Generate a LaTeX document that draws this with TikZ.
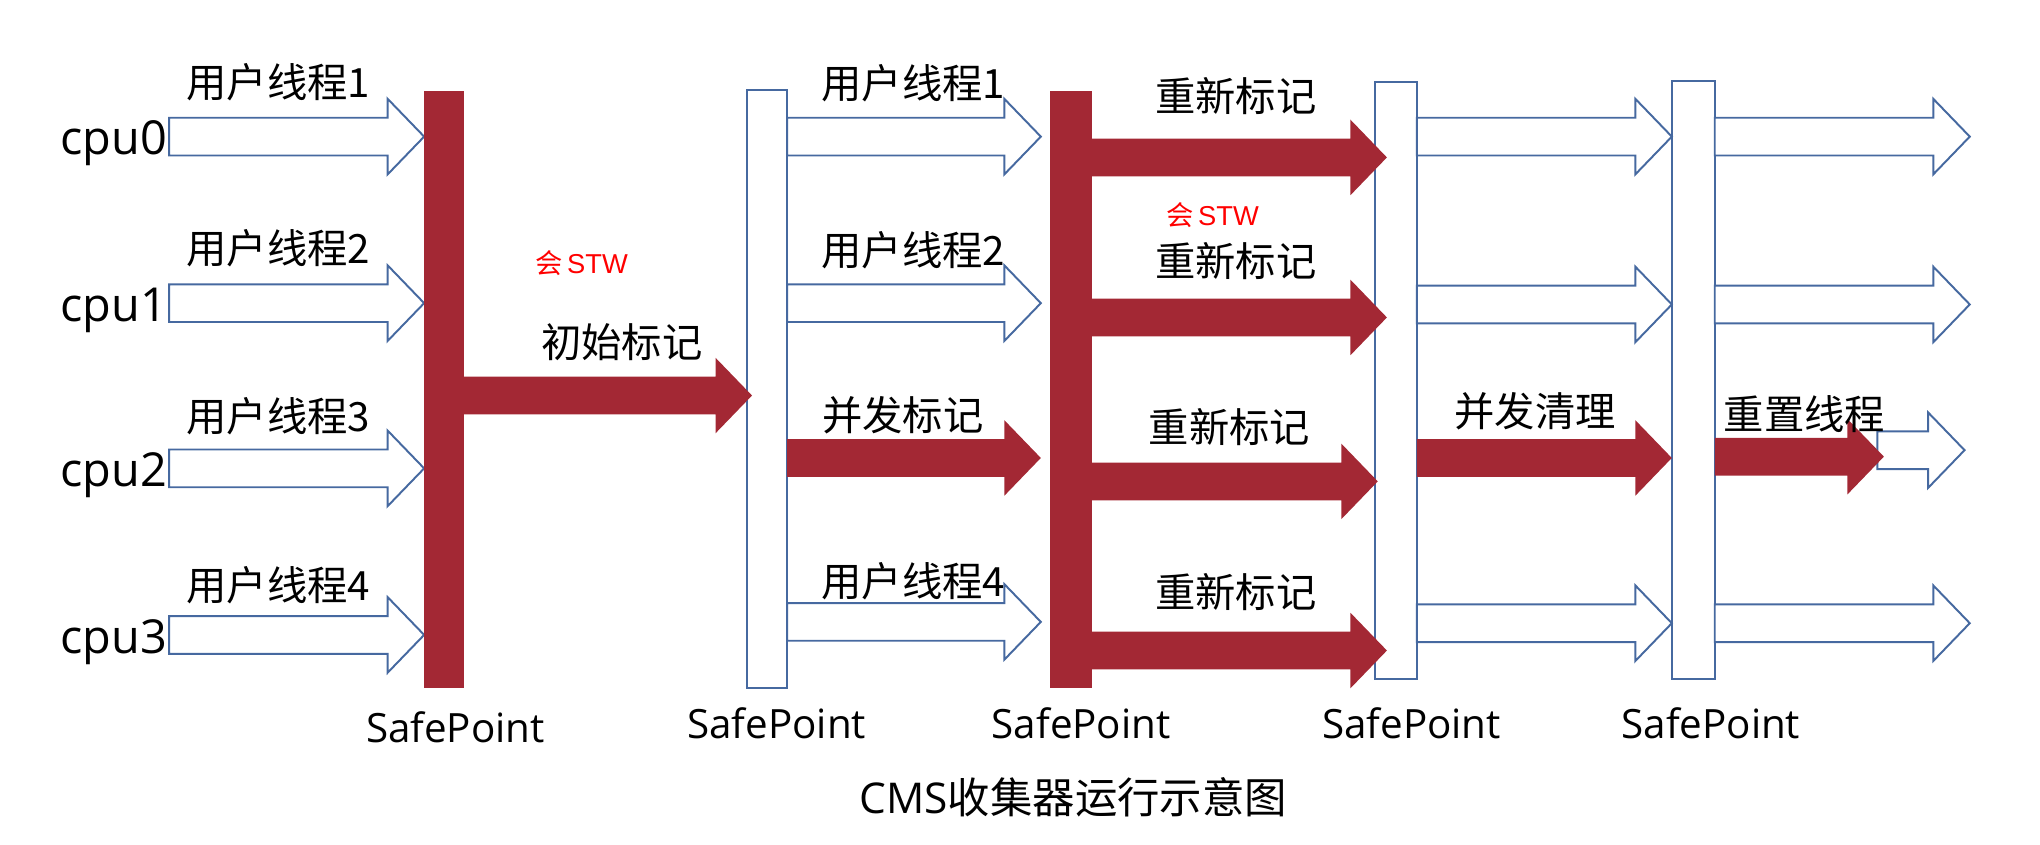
\documentclass[tikz,border=0pt]{standalone}
\usepackage{fontspec}
\setmainfont{Open Sans}
\newfontfamily\cjk{Noto Sans CJK SC}
\newfontfamily\arialf{Liberation Sans}
\definecolor{barred}{RGB}{163,40,52}
\definecolor{lineblue}{RGB}{70,105,160}
\definecolor{stwred}{RGB}{255,0,0}
% block arrow: style, x start, x tip, y centre (units: reference px)
\newcommand\harrow[4]{%
  \path[#1] (#2,#4-14.5) -- (#3-28,#4-14.5) -- (#3-28,#4-29) -- (#3,#4)
    -- (#3-28,#4+29) -- (#3-28,#4+14.5) -- (#2,#4+14.5) -- cycle;}
\begin{document}
\begin{tikzpicture}[x=0.5pt,y=-0.5pt,
  hollow/.style={draw=lineblue, fill=white, line width=0.75pt, line join=miter},
  solid/.style={fill=barred},
  redbar/.style={fill=barred, draw=none, inner sep=0pt, outer sep=0pt},
  holbar/.style={draw=lineblue, fill=white, line width=0.75pt, inner sep=0pt, outer sep=0pt},
  lbl/.style={font=\cjk\fontsize{15.5}{18}\selectfont, inner sep=0pt},
  cpulbl/.style={font=\fontsize{18}{21}\selectfont, inner sep=0pt, anchor=base west},
  splbl/.style={font=\fontsize{15.5}{18}\selectfont, inner sep=0pt, anchor=base},
  stw/.style={font=\fontsize{10.5}{12}\selectfont, text=stwred, inner sep=0pt}]
\useasboundingbox (0,0) rectangle (1568,649);

% hollow safepoint bars
\node[holbar, minimum width=15.5pt, minimum height=230pt] (sp2) at (589.5,299) {};
\node[holbar, minimum width=16pt, minimum height=229.5pt] (sp4) at (1073,292.5) {};
\node[holbar, minimum width=16.5pt, minimum height=230pt] (sp5) at (1301.5,292) {};

% stage 1: user threads
\foreach \y in {105,233,360,488} {\harrow{hollow}{130}{326}{\y}}
% initial mark
\harrow{solid}{350}{578}{304}
% stage 2
\foreach \y in {105,233,478} {\harrow{hollow}{605}{800}{\y}}
\harrow{solid}{605}{800}{352}
% stage 3: remark
\harrow{solid}{835}{1066}{121}
\harrow{solid}{835}{1066}{244}
\harrow{solid}{835}{1059}{370}
\harrow{solid}{835}{1066}{500}
% stage 4
\foreach \y in {105,234,479} {\harrow{hollow}{1089}{1285}{\y}}
\harrow{solid}{1089}{1285}{352}
% stage 5
\foreach \y in {105,234,479} {\harrow{hollow}{1318}{1514}{\y}}
\harrow{hollow}{1443}{1510}{346}
\harrow{solid}{1318}{1448}{351}

% red safepoint bars
\node[redbar, minimum width=15.5pt, minimum height=229.5pt] (sp1) at (341.5,299.5) {};
\node[redbar, minimum width=16pt, minimum height=229.5pt] (sp3) at (823,299.5) {};

% cpu labels
\node[cpulbl] (c0) at (46,119) {cpu0};
\node[cpulbl] (c1) at (46,247) {cpu1};
\node[cpulbl] (c2) at (46,374) {cpu2};
\node[cpulbl] (c3) at (46,502) {cpu3};

% stage 1 labels
\node[lbl] (u11) at (214,63) {用户线程1};
\node[lbl] (u12) at (214,191) {用户线程2};
\node[lbl] (u13) at (214,320) {用户线程3};
\node[lbl] (u14) at (214,450) {用户线程4};
\node[stw] (stw1) at (447,202) {{\cjk 会}\,{\arialf STW}};
\node[lbl] (init) at (478,263) {初始标记};

% stage 2 labels
\node[lbl] (u21) at (702,64) {用户线程1};
\node[lbl] (u22) at (702,192) {用户线程2};
\node[lbl] (cm) at (694,319) {并发标记};
\node[lbl] (u24) at (702,447) {用户线程4};

% stage 3 labels
\node[lbl] (r1) at (950,74) {重新标记};
\node[stw] (stw2) at (932,165) {{\cjk 会}\,{\arialf STW}};
\node[lbl] (r2) at (950,201) {重新标记};
\node[lbl] (r3) at (945,328) {重新标记};
\node[lbl] (r4) at (950,455) {重新标记};

% stage 4/5 labels
\node[lbl] (cs) at (1180,316) {并发清理};
\node[lbl] (rt) at (1387,318) {重置线程};

% safepoint labels
\node[splbl] (s1) at (350,571) {SafePoint};
\node[splbl] (s2) at (597,568) {SafePoint};
\node[splbl] (s3) at (831,568) {SafePoint};
\node[splbl] (s4) at (1085,568) {SafePoint};
\node[splbl] (s5) at (1315,568) {SafePoint};

% title
\node[anchor=base, inner sep=0pt, font=\fontsize{16.3}{19}\selectfont] (title) at (825,625) {CMS{\cjk 收集器运行示意图}};
\end{tikzpicture}
\end{document}
